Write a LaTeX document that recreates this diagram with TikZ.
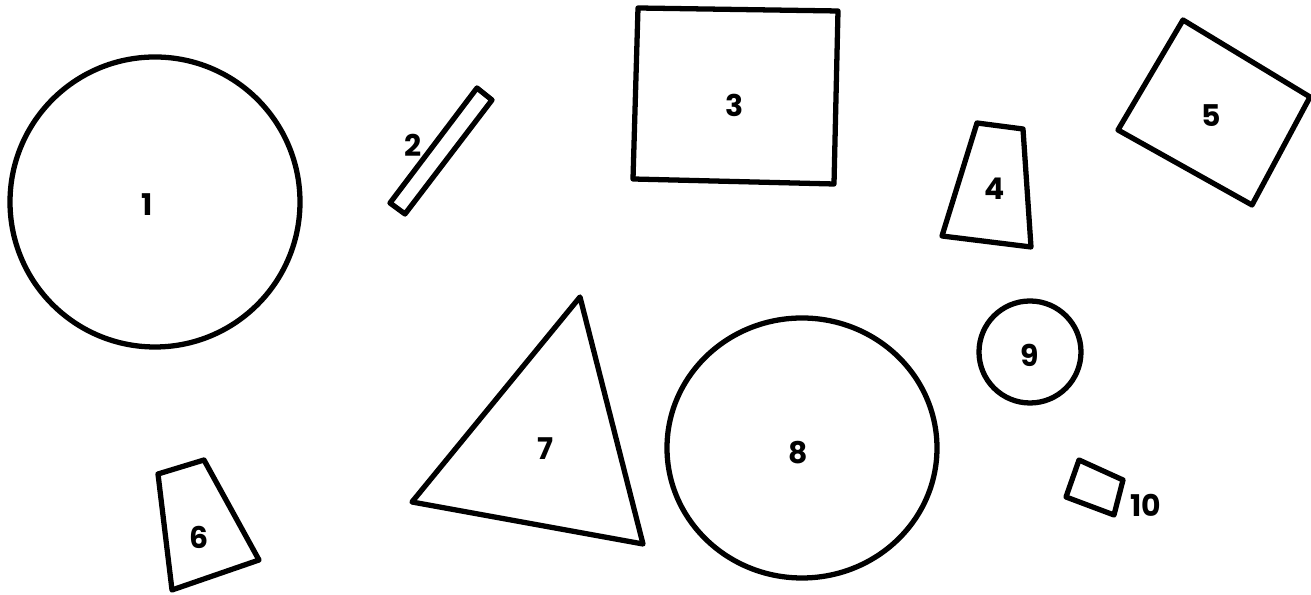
\documentclass[tikz,border=0pt]{standalone}
\usepackage{fontspec}
\setmainfont{Poppins}
\usepackage{tikz}

\begin{document}
\begin{tikzpicture}[
    x=0.01cm, y=-0.01cm,
    outline/.style={draw, line width=1.5pt, line join=round},
    numlabel/.style={font=\fontsize{8.5}{10}\selectfont\bfseries, inner sep=0pt}
]
\useasboundingbox (0,0) rectangle (1311,595);
% circles
\draw[outline] (155,202) circle [radius=145];
\draw[outline] (802,448) ellipse [x radius=135, y radius=130];
\draw[outline] (1030,352) circle [radius=51];
% polygons
\draw[outline] (477,88) -- (492,100) -- (405,214) -- (390,203) -- cycle;
\draw[outline] (638,8) -- (838,11) -- (834,184) -- (633,179) -- cycle;
\draw[outline] (977,123) -- (1023,129) -- (1031,247) -- (942,236) -- cycle;
\draw[outline] (1183,20) -- (1310,97) -- (1252,205) -- (1118,130) -- cycle;
\draw[outline] (158,474) -- (204,460) -- (259,560) -- (172,590) -- cycle;
\draw[outline] (580,297) -- (643,544) -- (412,502) -- cycle;
\draw[outline] (1079,460) -- (1123,480) -- (1114,515) -- (1066,497) -- cycle;
% numbers
\node[numlabel] (n1) at (147,205) {1};
\node[numlabel] (n2) at (413,145) {2};
\node[numlabel] (n3) at (735,105) {3};
\node[numlabel] (n4) at (995,189) {4};
\node[numlabel] (n5) at (1211,116) {5};
\node[numlabel] (n6) at (199,537) {6};
\node[numlabel] (n7) at (545,449) {7};
\node[numlabel] (n8) at (798,453) {8};
\node[numlabel] (n9) at (1030,355) {9};
\node[numlabel] (n10) at (1146,505) {10};
\end{tikzpicture}
\end{document}
